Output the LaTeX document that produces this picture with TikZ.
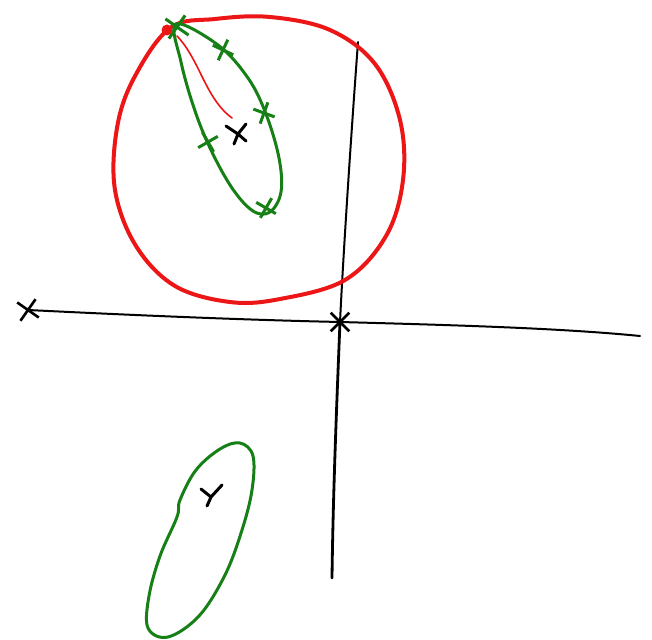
\documentclass[tikz,border=0pt]{standalone}
\usepackage{xcolor}
\usetikzlibrary{shapes.misc}
\definecolor{sketchred}{RGB}{236,22,22}
\definecolor{sketchgreen}{RGB}{22,128,22}
\tikzset{
  axis/.style    = {line width=2pt, black, line cap=round},
  pole/.style    = {cross out, draw=black, line width=2.6pt, minimum size=16pt, inner sep=0pt},
  zero/.style    = {black, line width=3pt, line cap=round},
  contour/.style = {line width=4pt, sketchred, line cap=round, line join=round},
  locus/.style   = {line width=3pt, sketchgreen, line cap=round, line join=round},
  tick/.style    = {cross out, draw=sketchgreen, line width=3pt, minimum size=13pt, inner sep=0pt},
}

\begin{document}
\begin{tikzpicture}[x=1pt, y=-1pt]
  \useasboundingbox (0,0) rectangle (652,639);

  % axes
  \coordinate (west)  at (28,310);
  \coordinate (orig)  at (340,322);
  \coordinate (east)  at (640,336);
  \coordinate (north) at (358,42);
  \coordinate (south) at (332,578);
  \draw[axis] (west) .. controls (150,316) and (250,320) .. (orig)
              .. controls (450,325) and (560,328) .. (east);
  \draw[axis] (north) .. controls (350,150) and (343,260) .. (orig);
  \draw[axis, line width=2.8pt] (orig) .. controls (336,420) and (333,500) .. (south);
  \node[pole, rotate=10] (p1) at (west) {};
  \node[pole] (p0) at (orig) {};

  % red circle
  \draw[contour] plot[smooth cycle, tension=0.6] coordinates {
    (170,28) (215,19) (270,17) (330,30) (375,64) (400,120) (403,180) (386,236)
    (345,280) (280,299) (230,302) (175,286) (136,246) (115,190) (117,128) (134,78)};
  \fill[sketchred] (167,30) circle (5.5pt);
  \draw[sketchred, line width=1.6pt, line cap=round] (177,36) .. controls (200,60) and (205,98) .. (232,118);

  % upper green locus
  \draw[locus] plot[smooth cycle, tension=0.6] coordinates {
    (176,24) (218,45) (248,78) (266,114) (279,158) (281,192) (270,212)
    (253,211) (232,188) (210,148) (194,108) (181,62)};
  \node[tick, minimum size=17pt, rotate=10] (t0) at (177,27) {};
  \node[tick, rotate=20] (t1) at (223,50) {};
  \node[tick, rotate=25] (t2) at (264,113) {};
  \node[tick, rotate=-15] (t3) at (208,142) {};
  \node[tick, rotate=15] (t4) at (266,208) {};

  % zeros
  \draw[zero] (226,126) -- (238,134) -- (246,124) (238,134) -- (234,144) (238,134) -- (246,141);
  \draw[zero] (201,489) -- (211,497) -- (222,485) (211,497) -- (207,506);

  % lower green locus
  \draw[locus] plot[smooth cycle, tension=0.6] coordinates {
    (240,443) (253,456) (252,490) (242,530) (225,575) (199,616) (168,637)
    (148,628) (149,596) (160,556) (177,517) (180,500) (196,470) (220,449)};
\end{tikzpicture}
\end{document}
